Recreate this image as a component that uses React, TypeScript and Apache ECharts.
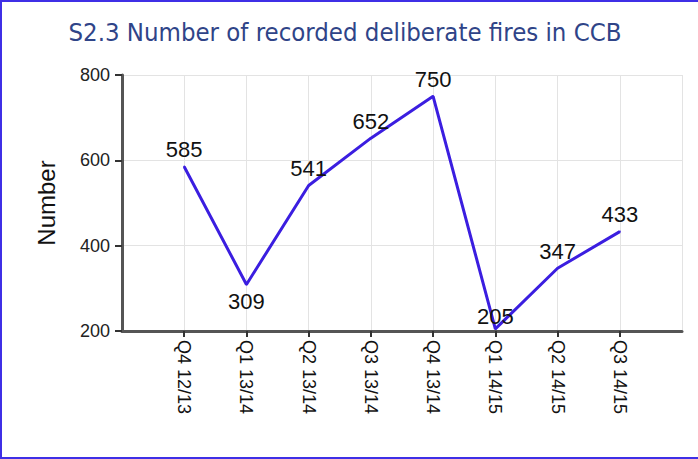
import React, { useEffect, useRef } from "react";
import * as echarts from "echarts";

const categories = ["Q4 12/13", "Q1 13/14", "Q2 13/14", "Q3 13/14", "Q4 13/14", "Q1 14/15", "Q2 14/15", "Q3 14/15"];
const fires = [585, 309, 541, 652, 750, 205, 347, 433];
const labelPositions = ["top", "bottom", "top", "top", "top", "top", "top", "top"];
const yTicks = [200, 400, 600, 800];

export default function App() {
  const ref = useRef<HTMLDivElement>(null);
  useEffect(() => {
    if (!ref.current) return;
    const chart = echarts.init(ref.current, null, { renderer: "svg" });
    const xData = ["", ...categories, ""];
    const seriesData: any[] = ["-"];
    fires.forEach((v, i) => {
      seriesData.push({
        value: v,
        label: {
          show: true,
          position: labelPositions[i],
          distance: i === 5 ? 0 : 5,
        },
      });
    });
    seriesData.push("-");
    chart.setOption({
      animation: false,
      backgroundColor: "#ffffff",
      title: {
        text: "S2.3 Number of recorded deliberate fires in CCB",
        left: 340,
        textAlign: "center",
        top: 14,
        textStyle: {
          fontFamily: "DejaVu Sans Condensed",
          fontSize: 25.5,
          fontWeight: "normal",
          color: "#2f4488",
        },
      },
      grid: { left: 122, right: 16, top: 75, bottom: 128, containLabel: false },
      xAxis: {
        type: "category",
        data: xData,
        boundaryGap: false,
        axisLine: { show: true, lineStyle: { color: "#555555", width: 3 } },
        axisTick: {
          show: true,
          interval: (i: number) => i > 0 && i < xData.length - 1,
          length: 6,
          lineStyle: { color: "#333333", width: 2 },
        },
        axisLabel: {
          interval: 0,
          rotate: -90,
          margin: 9,
          fontFamily: "Liberation Sans",
          fontSize: 18,
          color: "#111111",
        },
        splitLine: {
          show: true,
          interval: (i: number) => i > 0,
          lineStyle: { color: "#e3e3e3", width: 1 },
        },
      },
      yAxis: {
        type: "value",
        min: yTicks[0],
        max: yTicks[yTicks.length - 1],
        interval: 200,
        name: "Number",
        nameLocation: "middle",
        nameGap: 64,
        nameRotate: 90,
        nameTextStyle: { fontFamily: "Liberation Sans", fontSize: 24, color: "#111111" },
        axisLine: { show: true, lineStyle: { color: "#555555", width: 3 } },
        axisTick: { show: true, length: 7, lineStyle: { color: "#333333", width: 2 } },
        axisLabel: {
          margin: 12,
          fontFamily: "Liberation Sans",
          fontSize: 18,
          color: "#222222",
        },
        splitLine: { show: true, lineStyle: { color: "#e3e3e3", width: 1 } },
      },
      series: [
        {
          type: "line",
          data: seriesData,
          showSymbol: true,
          showAllSymbol: true,
          symbol: "circle",
          symbolSize: 2,
          lineStyle: { color: "#3b1ee0", width: 3 },
          itemStyle: { color: "#3b1ee0" },
          label: {
            show: true,
            fontFamily: "Liberation Sans",
            fontSize: 22,
            color: "#111111",
          },
        },
      ],
    });
    return () => chart.dispose();
  }, []);
  return (
    <div style={{ position: "fixed", left: 0, top: 0, width: 698, height: 459, background: "#fff" }}>
      <div ref={ref} style={{ width: 698, height: 459 }} />
      <div
        style={{
          position: "absolute",
          left: 0,
          top: 0,
          width: 698,
          height: 459,
          boxSizing: "border-box",
          borderTop: "2px solid #3f2fe6",
          borderLeft: "2px solid #3f2fe6",
          borderBottom: "2px solid #3f2fe6",
          pointerEvents: "none",
        }}
      />
    </div>
  );
}
